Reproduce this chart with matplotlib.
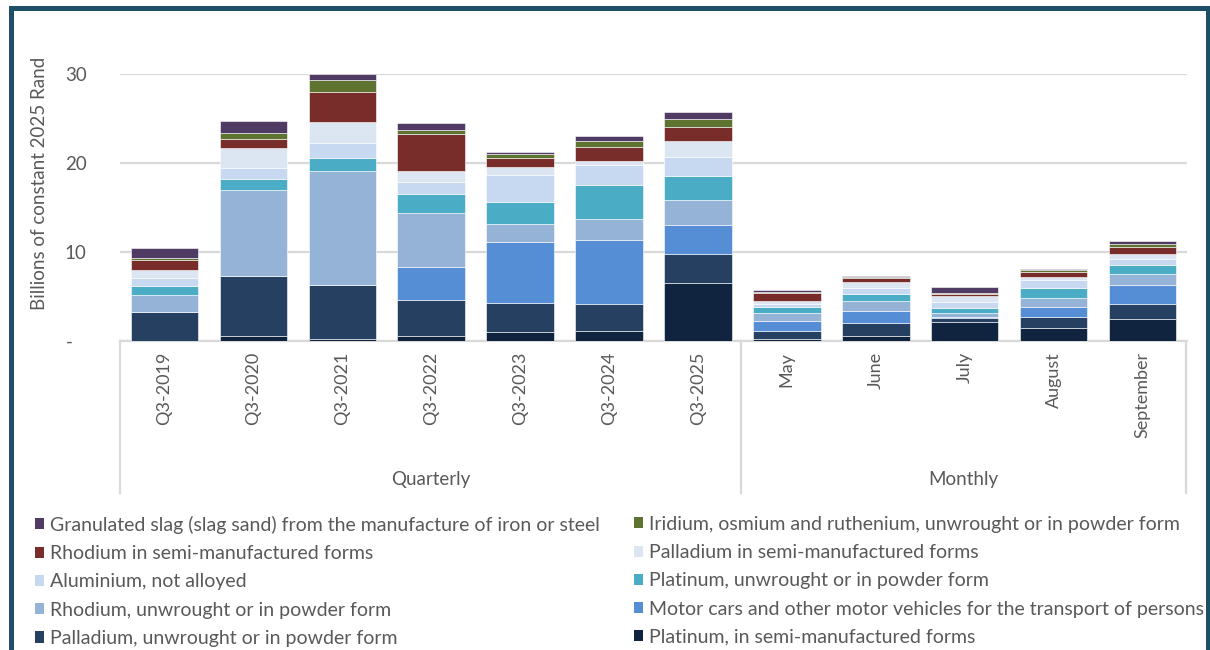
import matplotlib
matplotlib.use("Agg")
import matplotlib.pyplot as plt
import numpy as np
from matplotlib.patches import Rectangle, Patch
from matplotlib.lines import Line2D

plt.rcParams['font.family'] = ['Lato', 'DejaVu Sans']

categories = ['Q3-2019', 'Q3-2020', 'Q3-2021', 'Q3-2022', 'Q3-2023', 'Q3-2024', 'Q3-2025',
              'May', 'June', 'July', 'August', 'September']
groups = ['Quarterly', 'Monthly']

series_names = [
    'Platinum, in semi-manufactured forms',
    'Palladium, unwrought or in powder form',
    'Motor cars and other motor vehicles for the transport of persons',
    'Rhodium, unwrought or in powder form',
    'Platinum, unwrought or in powder form',
    'Aluminium, not alloyed',
    'Palladium in semi-manufactured forms',
    'Rhodium in semi-manufactured forms',
    'Iridium, osmium and ruthenium, unwrought or in powder form',
    'Granulated slag (slag sand) from the manufacture of iron or steel',
]

plat_semi   = [0.00, 0.56, 0.26, 0.56, 1.02, 1.13, 6.49, 0.26, 0.57, 2.15, 1.51, 2.42]
pall_powder = [3.30, 6.74, 6.03, 4.00, 3.28, 3.02, 3.32, 0.87, 1.40, 0.42, 1.17, 1.70]
motor_cars  = [0.00, 0.00, 0.00, 3.75, 6.83, 7.25, 3.21, 1.13, 1.43, 0.08, 1.17, 2.19]
rhod_powder = [1.85, 9.63, 12.81, 6.03, 2.04, 2.34, 2.87, 0.83, 1.13, 0.49, 1.02, 1.17]
plat_powder = [1.00, 1.31, 1.46, 2.17, 2.45, 3.77, 2.64, 0.75, 0.75, 0.57, 1.06, 1.02]
aluminium   = [0.90, 1.16, 1.72, 1.31, 3.06, 2.23, 2.19, 0.30, 0.68, 0.68, 0.98, 0.68]
pall_semi   = [0.97, 2.25, 2.28, 1.27, 0.87, 0.49, 1.74, 0.30, 0.64, 0.64, 0.26, 0.60]
rhod_semi   = [1.05, 1.05, 3.45, 4.19, 0.98, 1.62, 1.58, 0.94, 0.45, 0.26, 0.60, 0.75]
iridium     = [0.26, 0.71, 1.31, 0.41, 0.53, 0.57, 0.87, 0.11, 0.19, 0.15, 0.26, 0.42]
slag        = [1.09, 1.31, 0.64, 0.86, 0.19, 0.60, 0.83, 0.23, 0.08, 0.60, 0.08, 0.34]

series_values = [plat_semi, pall_powder, motor_cars, rhod_powder, plat_powder,
                 aluminium, pall_semi, rhod_semi, iridium, slag]
colors = ['#10243F', '#254061', '#558ED5', '#95B3D7', '#4BACC6',
          '#C6D9F1', '#DCE6F2', '#782D2B', '#5E7330', '#4F3B63']

ytick_vals = [0, 10, 20, 30]
ytick_labels = ['-   ', '10', '20', '30']

W, H = 1210, 650
fig = plt.figure(figsize=(W / 100, H / 100), dpi=100)
ax = fig.add_axes([120 / W, 1 - 341 / H, (1187 - 120) / W, (341 - 74) / H])

x = np.arange(len(categories))
bottom = np.zeros(len(categories))
for name, vals, c in zip(series_names, series_values, colors):
    v = np.array(vals)
    ax.bar(x, v, 0.76, bottom=bottom, color=c, edgecolor='white', linewidth=0.4,
           label=name, zorder=3)
    bottom += v

ax.set_xlim(-0.5, len(categories) - 0.5)
ax.set_ylim(0, 30)
ax.set_yticks(ytick_vals)
ax.set_yticklabels(ytick_labels)
ax.yaxis.grid(True, color='#D9D9D9', linewidth=1.6, zorder=0)
ax.set_axisbelow(True)
for s in ['top', 'right', 'left']:
    ax.spines[s].set_visible(False)
ax.spines['bottom'].set_color('#D9D9D9')
ax.spines['bottom'].set_linewidth(1.6)
ax.tick_params(axis='y', length=0, pad=24, labelsize=13.5, labelcolor='#595959')
ax.set_xticks(x)
ax.set_xticklabels(categories, rotation=90, va='top', ha='center')
ax.tick_params(axis='x', length=0, pad=8, labelsize=13, labelcolor='#595959')

# group separators and labels
for px in [120, 741, 1186]:
    fig.add_artist(Line2D([px / W, px / W], [1 - 341 / H, 1 - 493 / H],
                          color='#D9D9D9', linewidth=1.6))
fig.text((120 + 741) / 2 / W, 1 - 480 / H, groups[0], ha='center', va='center',
         fontsize=13.5, color='#595959')
fig.text((741 + 1186) / 2 / W, 1 - 480 / H, groups[1], ha='center', va='center',
         fontsize=13.5, color='#595959')

fig.text(40 / W, 1 - 183 / H, 'Billions of constant 2025 Rand', rotation=90,
         ha='center', va='center', fontsize=13.5, color='#595959')

# legend: reversed order, row-wise in two columns
rev = list(zip(series_names, colors))[::-1]
col1 = rev[0::2]
col2 = rev[1::2]
for items, xpos in [(col1, 25), (col2, 624)]:
    hs = [Patch(facecolor=c, edgecolor='none') for _, c in items]
    fig.legend(hs, [n for n, _ in items], loc='upper left',
               bbox_to_anchor=(xpos / W, 1 - 506 / H), frameon=False,
               fontsize=14, handlelength=0.5, handleheight=0.5,
               handletextpad=0.3, labelspacing=0.58, borderpad=0,
               labelcolor='#595959')

# outer frame
fig.add_artist(Rectangle((10.5 / W, -0.1), (1207.5 - 10.5) / W, 1.1 - 8.5 / H,
                         transform=fig.transFigure, fill=False,
                         edgecolor='#1F4E69', linewidth=3.6))

fig.savefig('out.png', dpi=100)
